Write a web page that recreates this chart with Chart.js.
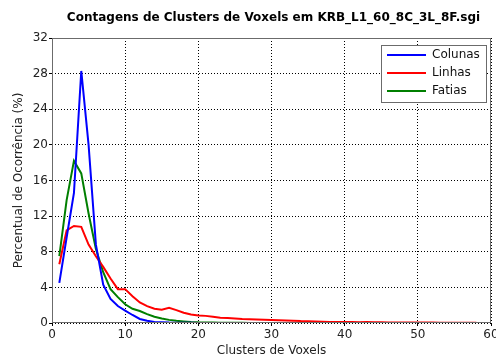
<!DOCTYPE html>
<html>
<head>
  <meta charset="UTF-8">
  <title>Contagens de Clusters de Voxels</title>
  <script src="https://cdn.jsdelivr.net/npm/chart.js"></script>
  <style>
    body { margin: 0; background: #fff; }
    #wrap { width: 496px; height: 358px; position: relative; }
  </style>
</head>
<body>
  <div id="wrap"><canvas id="c"></canvas></div>
  <script>
    // dados (x = 1, 2, 3, ...)
    const colunas = [4.5, 9.6, 14.6, 28.3, 20.0, 8.8, 4.3, 2.7, 1.9, 1.4,
      0.9, 0.45, 0.25, 0.12, 0.08, 0.05, 0.04, 0.03, 0.02, 0.01];
    const linhas = [6.6, 10.4, 10.9, 10.8, 8.8, 7.5, 6.3, 5.0, 3.8, 3.8,
      3.0, 2.3, 1.9, 1.6, 1.5, 1.7, 1.45, 1.15, 0.95, 0.85,
      0.8, 0.7, 0.6, 0.55, 0.5, 0.45, 0.42, 0.4, 0.36, 0.33,
      0.3, 0.28, 0.26, 0.22, 0.2, 0.17, 0.15, 0.12, 0.12, 0.1,
      0.1, 0.09, 0.1, 0.08, 0.08, 0.07, 0.07, 0.06, 0.06, 0.05,
      0.05, 0.05, 0.04, 0.04, 0.04, 0.03, 0.03, 0.03];
    const fatias = [7.5, 13.8, 18.2, 16.8, 12.3, 8.3, 5.7, 3.8, 2.9, 2.1,
      1.6, 1.35, 1.0, 0.7, 0.5, 0.35, 0.25, 0.18, 0.12, 0.08,
      0.06, 0.05, 0.04, 0.03, 0.02, 0.02, 0.01, 0.01, 0.01, 0.01];
    const xTicks = [0, 10, 20, 30, 40, 50, 60];
    const yTicks = [0, 4, 8, 12, 16, 20, 24, 28, 32];
    const titulo = 'Contagens de Clusters de Voxels em KRB_L1_60_8C_3L_8F.sgi';

    const pts = arr => arr.map((v, i) => ({ x: i + 1, y: v }));
    const fontFam = "'DejaVu Sans', sans-serif";

    // título, caixa dos eixos e legenda dentro da área do gráfico
    const boxLegend = {
      id: 'boxLegend',
      afterDraw(chart) {
        const { ctx, chartArea: a } = chart;
        ctx.save();
        ctx.fillStyle = '#000';
        ctx.font = 'bold 12px ' + fontFam;
        ctx.textAlign = 'center';
        ctx.textBaseline = 'middle';
        ctx.fillText(titulo, (a.left + a.right) / 2 + 2, 18);

        ctx.strokeStyle = '#6b6b6b';
        ctx.lineWidth = 1;
        ctx.strokeRect(a.left + 0.5, a.top + 0.5, a.right - a.left - 1, a.bottom - a.top - 1);

        const w = 105, h = 57, x0 = a.right - w - 5, y0 = a.top + 7;
        ctx.fillStyle = '#fff';
        ctx.fillRect(x0, y0, w, h);
        ctx.strokeRect(x0 + 0.5, y0 + 0.5, w, h);
        ctx.font = '12px ' + fontFam;
        ctx.textAlign = 'left';
        chart.data.datasets.forEach((ds, i) => {
          const yy = y0 + 10 + i * 18;
          ctx.strokeStyle = ds.borderColor;
          ctx.lineWidth = 2;
          ctx.beginPath();
          ctx.moveTo(x0 + 6, yy);
          ctx.lineTo(x0 + 45, yy);
          ctx.stroke();
          ctx.fillStyle = '#111';
          ctx.fillText(ds.label, x0 + 51, yy);
        });
        ctx.restore();
      }
    };

    new Chart(document.getElementById('c'), {
      type: 'line',
      data: {
        datasets: [
          { label: 'Colunas', data: pts(colunas), borderColor: '#0000ff' },
          { label: 'Linhas', data: pts(linhas), borderColor: '#ff0000' },
          { label: 'Fatias', data: pts(fatias), borderColor: '#007f00' }
        ]
      },
      options: {
        responsive: true,
        maintainAspectRatio: false,
        animation: false,
        elements: {
          point: { radius: 0 },
          line: { borderWidth: 2, tension: 0 }
        },
        layout: { padding: { left: 0, right: 5, top: 38, bottom: 0 } },
        plugins: {
          legend: { display: false },
          tooltip: { enabled: false },
          title: { display: false }
        },
        scales: {
          x: {
            type: 'linear',
            min: 0, max: 60,
            afterBuildTicks: s => { s.ticks = xTicks.map(v => ({ value: v })); },
            ticks: { color: '#222', font: { family: fontFam, size: 12 }, padding: 2, maxRotation: 0 },
            grid: { color: '#000', lineWidth: 1, drawTicks: true, tickLength: 3 },
            border: { dash: [1, 2], display: false },
            title: { display: true, text: 'Clusters de Voxels', color: '#222', font: { family: fontFam, size: 12 }, padding: { top: 0, bottom: 0 } },
            afterFit: s => { s.height = 35; s.paddingLeft = 0; s.paddingRight = 0; }
          },
          y: {
            min: 0, max: 32,
            afterBuildTicks: s => { s.ticks = yTicks.map(v => ({ value: v })); },
            ticks: { color: '#222', font: { family: fontFam, size: 12 }, padding: 1 },
            grid: { color: '#000', lineWidth: 1, drawTicks: true, tickLength: 3 },
            border: { dash: [1, 2], display: false },
            title: { display: true, text: 'Percentual de Ocorrência (%)', color: '#222', font: { family: fontFam, size: 12 }, padding: { top: 12, bottom: 0 } },
            afterFit: s => { s.width = 52; s.paddingTop = 0; s.paddingBottom = 0; }
          }
        }
      },
      plugins: [boxLegend]
    });
  </script>
</body>
</html>
